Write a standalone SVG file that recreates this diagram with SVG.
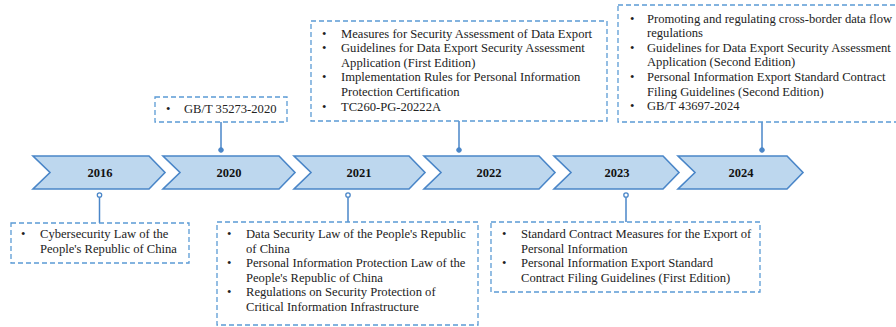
<svg xmlns="http://www.w3.org/2000/svg" width="896" height="327" viewBox="0 0 896 327">
<style>
.chev{fill:#BDD7EE;stroke:#4A86C8;stroke-width:1.6;stroke-linejoin:miter}
.yr{font-family:"Liberation Serif","Times New Roman",serif;font-size:12.5px;font-weight:bold;fill:#111;text-anchor:middle}
.box{fill:#fff;stroke:#5B9BD5;stroke-width:1.3;stroke-dasharray:5,3}
.t{font-family:"Liberation Serif","Times New Roman",serif;font-size:12.6px;fill:#222}
.ln{stroke:#4A86C8;stroke-width:1.5;fill:none}
.dotf{fill:#4A86C8;stroke:#4A86C8;stroke-width:1}
.doto{fill:#fff;stroke:#4A86C8;stroke-width:1.3}
</style>
<rect width="896" height="327" fill="#fff"/>
<g id="connectors">
<line class="ln" x1="99.5" y1="195" x2="99.5" y2="223"/>
<circle class="doto" cx="99.5" cy="195" r="2.2"/>
<line class="ln" x1="348" y1="195" x2="348" y2="222"/>
<circle class="doto" cx="348" cy="195" r="2.2"/>
<line class="ln" x1="626" y1="195" x2="626" y2="222"/>
<circle class="doto" cx="626" cy="195" r="2.2"/>
<line class="ln" x1="221" y1="122" x2="221" y2="150"/>
<circle class="dotf" cx="221" cy="150" r="2.3"/>
<line class="ln" x1="459" y1="121" x2="459" y2="150"/>
<circle class="dotf" cx="459" cy="150" r="2.3"/>
<line class="ln" x1="762" y1="122" x2="762" y2="150"/>
<circle class="dotf" cx="762" cy="150" r="2.3"/>
</g>
<g id="y2016"><polygon class="chev" points="33,156 149,156 165,172.5 149,189 33,189 50,172.5"/><text class="yr" x="100" y="177">2016</text></g>
<g id="y2020"><polygon class="chev" points="163,156 279,156 295,172.5 279,189 163,189 180,172.5"/><text class="yr" x="229" y="177">2020</text></g>
<g id="y2021"><polygon class="chev" points="294,156 409,156 425,172.5 409,189 294,189 311,172.5"/><text class="yr" x="359" y="177">2021</text></g>
<g id="y2022"><polygon class="chev" points="424,156 539,156 555,172.5 539,189 424,189 441,172.5"/><text class="yr" x="489" y="177">2022</text></g>
<g id="y2023"><polygon class="chev" points="554,156 663,156 679,172.5 663,189 554,189 571,172.5"/><text class="yr" x="617" y="177">2023</text></g>
<g id="y2024"><polygon class="chev" points="678,156 787,156 803,172.5 787,189 678,189 695,172.5"/><text class="yr" x="741" y="177">2024</text></g>
<g id="box2016">
<rect class="box" x="11" y="223" width="178" height="40"/>
<text class="t"><tspan x="21" y="238">•</tspan><tspan x="40" y="238">Cybersecurity Law of the</tspan><tspan x="40" y="253">People's Republic of China</tspan></text>
</g>
<g id="box2020">
<rect class="box" x="155" y="97" width="132" height="25"/>
<text class="t"><tspan x="166" y="113">•</tspan><tspan x="184" y="113">GB/T 35273-2020</tspan></text>
</g>
<g id="box2021">
<rect class="box" x="217" y="222" width="261" height="103"/>
<text class="t"><tspan x="227" y="238">•</tspan><tspan x="246" y="238">Data Security Law of the People's Republic</tspan><tspan x="246" y="252.6">of China</tspan><tspan x="227" y="267.2">•</tspan><tspan x="246" y="267.2">Personal Information Protection Law of the</tspan><tspan x="246" y="281.8">People's Republic of China</tspan><tspan x="227" y="296.4">•</tspan><tspan x="246" y="296.4">Regulations on Security Protection of</tspan><tspan x="246" y="311">Critical Information Infrastructure</tspan></text>
</g>
<g id="box2022">
<rect class="box" x="311" y="21" width="296" height="100"/>
<text class="t"><tspan x="322" y="37.5">•</tspan><tspan x="341" y="37.5">Measures for Security Assessment of Data Export</tspan><tspan x="322" y="52.1">•</tspan><tspan x="341" y="52.1">Guidelines for Data Export Security Assessment</tspan><tspan x="341" y="66.7">Application (First Edition)</tspan><tspan x="322" y="81.3">•</tspan><tspan x="341" y="81.3">Implementation Rules for Personal Information</tspan><tspan x="341" y="95.9">Protection Certification</tspan><tspan x="322" y="110.5">•</tspan><tspan x="341" y="110.5">TC260-PG-20222A</tspan></text>
</g>
<g id="box2023">
<rect class="box" x="491" y="222" width="269" height="70"/>
<text class="t"><tspan x="502" y="238">•</tspan><tspan x="521" y="238">Standard Contract Measures for the Export of</tspan><tspan x="521" y="252.6">Personal Information</tspan><tspan x="502" y="267.2">•</tspan><tspan x="521" y="267.2">Personal Information Export Standard</tspan><tspan x="521" y="281.8">Contract Filing Guidelines (First Edition)</tspan></text>
</g>
<g id="box2024">
<rect class="box" x="618" y="5" width="290" height="117"/>
<text class="t"><tspan x="630" y="22.5">•</tspan><tspan x="647" y="22.5">Promoting and regulating cross-border data flow</tspan><tspan x="647" y="37.1">regulations</tspan><tspan x="630" y="51.7">•</tspan><tspan x="647" y="51.7">Guidelines for Data Export Security Assessment</tspan><tspan x="647" y="66.3">Application (Second Edition)</tspan><tspan x="630" y="80.9">•</tspan><tspan x="647" y="80.9">Personal Information Export Standard Contract</tspan><tspan x="647" y="95.5">Filing Guidelines (Second Edition)</tspan><tspan x="630" y="110.1">•</tspan><tspan x="647" y="110.1">GB/T 43697-2024</tspan></text>
</g>
</svg>
